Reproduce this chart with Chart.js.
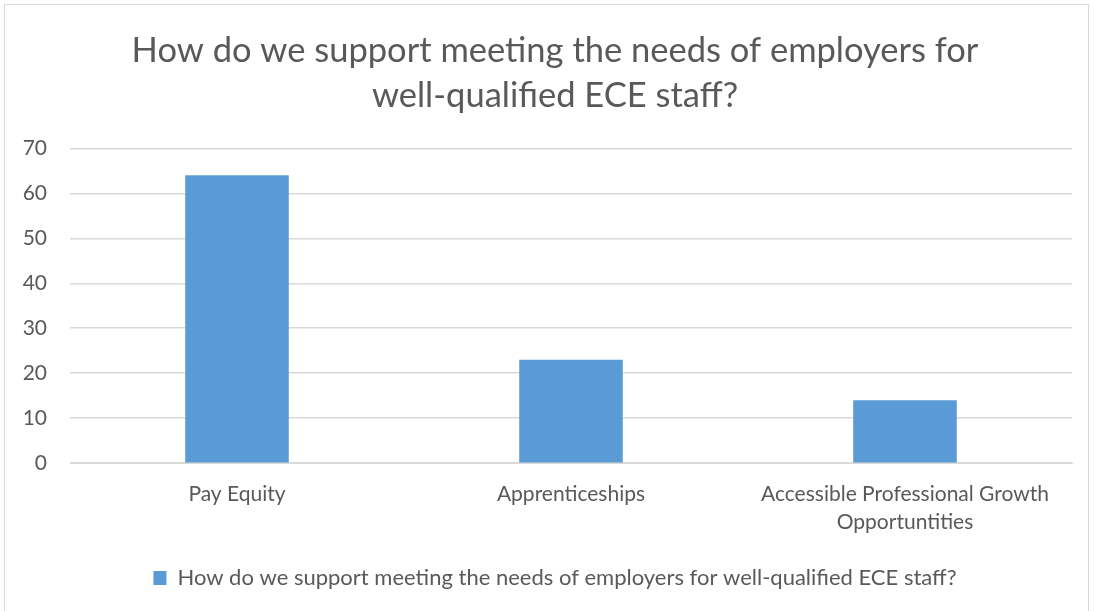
<!DOCTYPE html>
<html>
<head>
<meta charset="utf-8">
<script src="https://cdn.jsdelivr.net/npm/chart.js@4"></script>
<style>
  html, body { margin: 0; padding: 0; background: #ffffff; }
  body { width: 1094px; height: 611px; overflow: hidden; position: relative; }
  #frame { position: absolute; left: 4px; top: 4px; width: 1085px; height: 640px;
           border: 1px solid #d9d9d9; box-sizing: border-box; }
  #wrap { position: absolute; left: 0; top: 0; width: 1094px; height: 611px; }
</style>
</head>
<body>
<div id="frame"></div>
<div id="wrap"><canvas id="chart" width="1094" height="611"></canvas></div>
<script>
// Survey responses per option
const categories = [
  'Pay Equity',
  'Apprenticeships',
  ['Accessible Professional Growth', 'Opportuntities']
];
const responses = [64, 23, 14];
const seriesName = 'How do we support meeting the needs of employers for well-qualified ECE staff?';
const titleLines = ['How do we support meeting the needs of employers for', 'well-qualified ECE staff?'];
const yTicks = [0, 10, 20, 30, 40, 50, 60, 70];

const FONT = 'Lato, "Open Sans", sans-serif';
const TEXT = '#595959';

// Centre the title and legend on the whole frame rather than the plot box
const centreOnFrame = {
  id: 'centreOnFrame',
  afterLayout(chart) {
    const dx = 14;
    [chart.titleBlock, chart.legend].forEach(box => {
      if (box) { box.left += dx; box.right += dx; }
    });
  }
};

new Chart(document.getElementById('chart'), {
  type: 'bar',
  data: {
    labels: categories,
    datasets: [{
      label: seriesName,
      data: responses,
      backgroundColor: '#5b9bd5',
      borderWidth: 0,
      categoryPercentage: 1,
      barPercentage: 0.31
    }]
  },
  plugins: [centreOnFrame],
  options: {
    responsive: false,
    animation: false,
    devicePixelRatio: 1,
    layout: { padding: { left: 10, right: 22, top: 28, bottom: 12 } },
    plugins: {
      title: {
        display: true,
        text: titleLines,
        color: TEXT,
        font: { family: FONT, size: 34.5, weight: 'normal', lineHeight: 1.31 },
        padding: { top: 0, bottom: 30 }
      },
      legend: {
        position: 'bottom',
        labels: {
          color: TEXT,
          font: { family: FONT, size: 22 },
          boxWidth: 13,
          boxHeight: 14,
          padding: 14
        }
      },
      tooltip: { enabled: false }
    },
    scales: {
      x: {
        grid: { display: false, drawTicks: false },
        border: { color: '#d9d9d9', width: 1 },
        ticks: {
          color: TEXT,
          font: { family: FONT, size: 21, lineHeight: 1.33 },
          padding: 17,
          maxRotation: 0,
          autoSkip: false
        }
      },
      y: {
        min: 0,
        max: 70,
        afterBuildTicks: (axis) => { axis.ticks = yTicks.map(v => ({ value: v })); },
        afterFit: (axis) => { axis.width = 60; },
        grid: { color: '#d9d9d9', lineWidth: 1.5, drawTicks: false },
        border: { display: false },
        ticks: {
          color: TEXT,
          font: { family: FONT, size: 21 },
          padding: 23
        }
      }
    }
  }
});
</script>
</body>
</html>
